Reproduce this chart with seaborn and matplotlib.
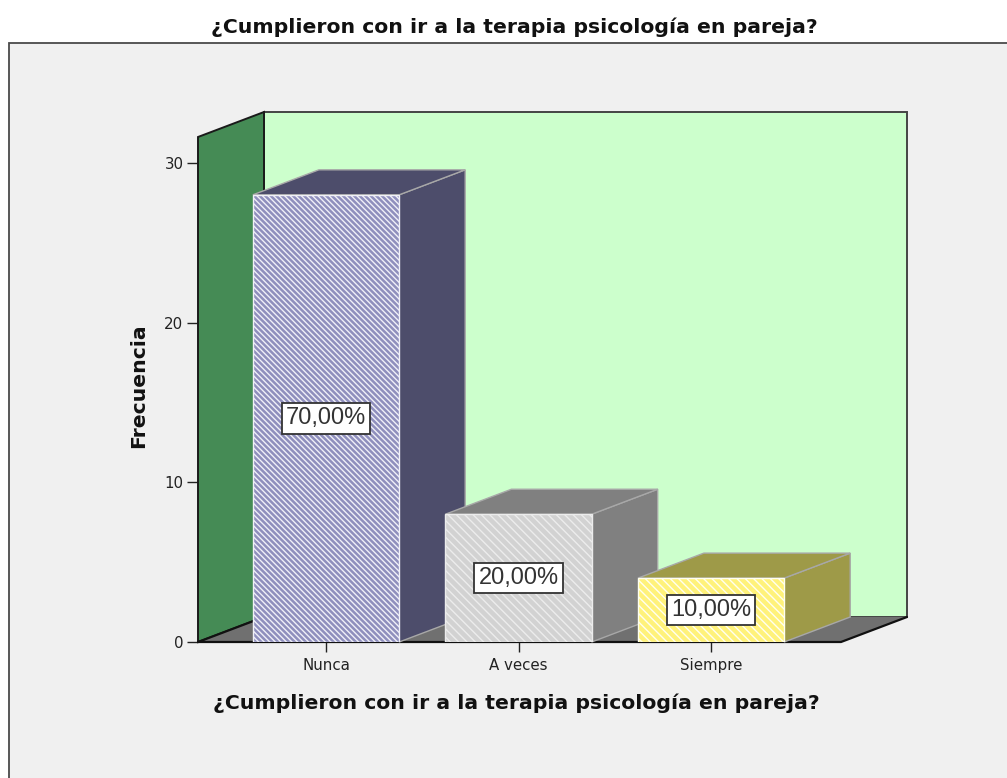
import matplotlib
matplotlib.use('Agg')
import matplotlib.pyplot as plt
from matplotlib.patches import Polygon, Rectangle
import pandas as pd
import seaborn as sns

categories = ['Nunca', 'A veces', 'Siempre']
frequencies = [28, 8, 4]
percent_labels = ['70,00%', '20,00%', '10,00%']
y_ticks = [0, 10, 20, 30]
chart_title = '¿Cumplieron con ir a la terapia psicología en pareja?'
y_title = 'Frecuencia'

front_colors = ['#8f8fbd', '#d2d2d2', '#fff27a']
side_colors = ['#4d4d6b', '#808080', '#9e9a48']
hatch_colors = ['#f0f0f8', '#ececec', '#fffff0']
hatches = ['\\' * 6, '\\' * 4, '\\' * 4]

W, H = 1007, 778
DEPTH_X, DEPTH_Y = 66, 25

sns.set_theme(style='white')
plt.rcParams['font.family'] = ['Liberation Sans', 'DejaVu Sans']
plt.rcParams['hatch.linewidth'] = 1.0

fig = plt.figure(figsize=(W / 100, H / 100), dpi=100, facecolor='white')

# panel behind everything, runs off the right and bottom edge
fig.add_artist(Rectangle((9 / W, -0.01), 1.01, (H - 43) / H + 0.01, transform=fig.transFigure,
                         facecolor='#f0f0f0', edgecolor='#4a4a4a', linewidth=1.3, zorder=-1))

left, right, bottom, top = 198, 841, 642, 137
ax = fig.add_axes([left / W, 1 - bottom / H, (right - left) / W, (bottom - top) / H])
ax.patch.set_alpha(0)

df = pd.DataFrame({'categoria': categories, 'frecuencia': frequencies})
sns.barplot(data=df, x='categoria', y='frecuencia', hue='categoria', palette=front_colors,
            width=0.76, legend=False, saturation=1, ax=ax)

ax.set_xlim(-0.665, 2.675)
ax.set_ylim(0, 31.62)

dx = DEPTH_X * (ax.get_xlim()[1] - ax.get_xlim()[0]) / (right - left)
dy = DEPTH_Y * (ax.get_ylim()[1] - ax.get_ylim()[0]) / (bottom - top)
x0, x1 = ax.get_xlim()
y0, y1 = ax.get_ylim()


def face(points, **kwargs):
    patch = Polygon(points, closed=True, clip_on=False, **kwargs)
    ax.add_patch(patch)
    return patch


# back wall, left wall, floor
face([(x0 + dx, y0 + dy), (x1 + dx, y0 + dy), (x1 + dx, y1 + dy), (x0 + dx, y1 + dy)],
     facecolor='#ccffcc', edgecolor='#444444', linewidth=1.4, zorder=0.5)
face([(x0, y0), (x0 + dx, y0 + dy), (x0 + dx, y1 + dy), (x0, y1)],
     facecolor='#458b55', edgecolor='#1a1a1a', linewidth=1.4, zorder=0.6)
face([(x0, y0), (x1, y0), (x1 + dx, y0 + dy), (x0 + dx, y0 + dy)],
     facecolor='#707070', edgecolor='none', zorder=0.7)
ax.plot([x0 + dx, x0, x1, x1 + dx], [y0 + dy, y0, y0, y0 + dy], color='#111111', linewidth=1.6,
        clip_on=False, zorder=0.8)

for bar, side, hatch, hatch_color, pct in zip(ax.patches[:3], side_colors, hatches, hatch_colors, percent_labels):
    bx, bw, bh = bar.get_x(), bar.get_width(), bar.get_height()
    bar.set_hatch(hatch)
    bar.set_edgecolor(hatch_color)
    bar.set_linewidth(1.0)
    bar.set_zorder(3)
    face([(bx + bw, 0), (bx + bw + dx, dy), (bx + bw + dx, bh + dy), (bx + bw, bh)],
         facecolor=side, edgecolor='#a8a8a8', linewidth=1.0, zorder=2)
    face([(bx, bh), (bx + bw, bh), (bx + bw + dx, bh + dy), (bx + dx, bh + dy)],
         facecolor=side, edgecolor='#a8a8a8', linewidth=1.0, zorder=2)
    ax.text(bx + bw / 2, bh / 2, pct, ha='center', va='center', fontsize=17, color='#333333', zorder=5,
            bbox=dict(boxstyle='square,pad=0.18', facecolor='white', edgecolor='#333333', linewidth=1.3))

sns.despine(ax=ax, left=True, bottom=True, top=True, right=True)
ax.set_yticks(y_ticks)
small = dict(labelsize=10.8, labelcolor='#222222', color='#222222', width=1)
ax.tick_params(axis='y', length=8, pad=2.5, left=True, **small)
ax.tick_params(axis='x', length=7, pad=4.5, bottom=True, **small)
for tick in ax.get_xticklabels() + ax.get_yticklabels():
    tick.set_family(['DejaVu Sans'])
bold = dict(fontsize=14.7, fontweight='bold', color='#111111', family=['DejaVu Sans'])
ax.set_xlabel(chart_title, labelpad=14.5, **bold)
ax.xaxis.label.set_x(0.4945)
ax.set_ylabel(y_title, labelpad=11.5, **bold)
ax.yaxis.label.set_y(0.507)

fig.text(514 / W, 1 - 27 / H, chart_title, ha='center', va='center', **bold)

fig.savefig('out.png', dpi=100)
